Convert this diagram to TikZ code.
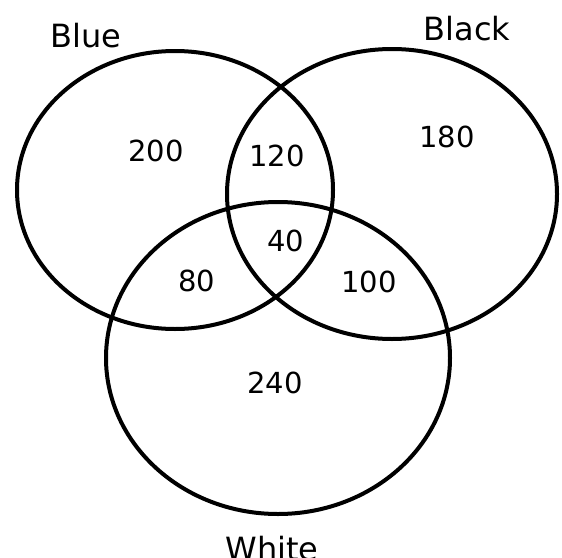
\documentclass[tikz,border=0pt]{standalone}
\usepackage{fontspec}
\setmainfont{DejaVu Sans}
\usepackage{tikz}
\usetikzlibrary{shapes.geometric}

\begin{document}
\begin{tikzpicture}[
    x=0.5pt, y=-0.5pt, % picture measured in pixels of the original
    set/.style={
        draw,
        ellipse,
        line width=2pt,
        inner sep=0pt
    },
    count/.style={
        font=\fontsize{14.5}{17}\selectfont,
        inner sep=0pt
    },
    setname/.style={
        font=\fontsize{16}{19}\selectfont,
        inner sep=0pt
    }
]
    \useasboundingbox (0,0) rectangle (562,557);

    % --- The three sets ---
    \node[set, minimum width=158pt, minimum height=139pt] (blue)  at (175,190) {};
    \node[set, minimum width=165pt, minimum height=145pt] (black) at (392,194) {};
    \node[set, minimum width=172pt, minimum height=156pt] (white) at (278,358) {};

    % --- Set names ---
    \node[setname] (lblue)  at (86,36)   {Blue};
    \node[setname] (lblack) at (467,29)  {Black};
    \node[setname] (lwhite) at (272,549) {White};

    % --- Counts in each region ---
    \node[count] (onlyblue)  at (156,151) {200};
    \node[count] (blueblack) at (277,156) {120};
    \node[count] (onlyblack) at (447,137) {180};
    \node[count] (allthree)  at (286,241) {40};
    \node[count] (bluewhite) at (197,281) {80};
    \node[count] (blackwhite)at (369,282) {100};
    \node[count] (onlywhite) at (275,383) {240};
\end{tikzpicture}
\end{document}
